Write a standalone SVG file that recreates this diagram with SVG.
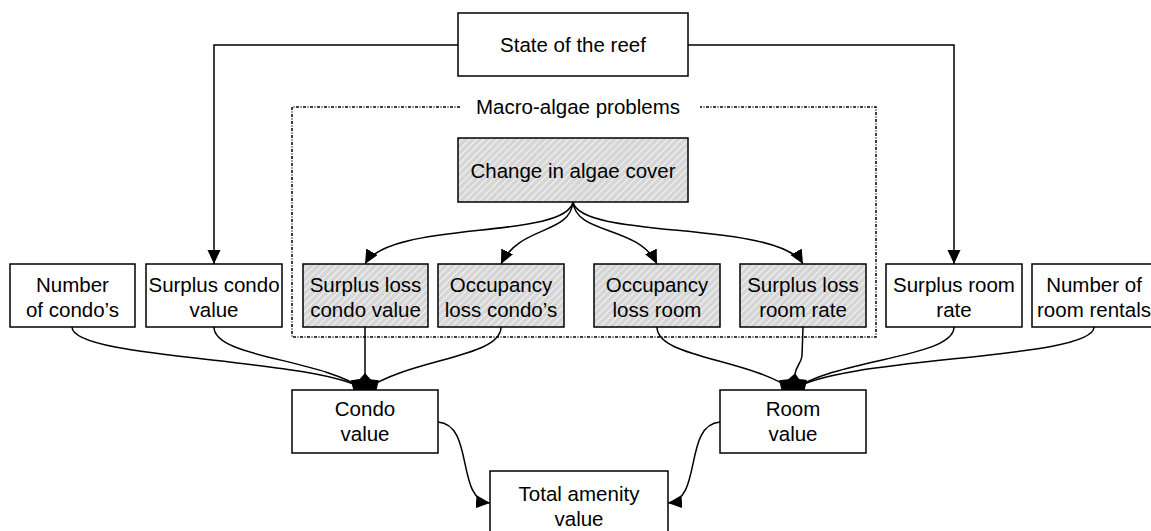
<svg xmlns="http://www.w3.org/2000/svg" width="1151" height="531" viewBox="0 0 1151 531">
<defs>
<pattern id="hatch" width="5" height="5" patternUnits="userSpaceOnUse" patternTransform="rotate(45)">
<rect width="5" height="5" fill="#d6d6d6"/>
<line x1="0" y1="0" x2="0" y2="5" stroke="#f4f4f4" stroke-width="2"/>
</pattern>
<marker id="arrow" markerUnits="userSpaceOnUse" markerWidth="16" markerHeight="14" refX="14" refY="6.5" orient="auto">
<path d="M0,0 L14,6.5 L0,13 z" fill="#000"/>
</marker>
<marker id="diamond" markerUnits="userSpaceOnUse" markerWidth="20" markerHeight="16" refX="17" refY="7.5" orient="auto">
<path d="M0,7.5 L8.5,0 L17,7.5 L8.5,15 z" fill="#000"/>
</marker>
</defs>
<style>
.box{fill:#fff;stroke:#000;stroke-width:1.5}
.hbox{fill:url(#hatch);stroke:#000;stroke-width:1.5}
text{font-family:"Liberation Sans",Arial,sans-serif;font-size:20.5px;fill:#000;text-anchor:middle}
.conn{fill:none;stroke:#000;stroke-width:1.5}
.arr{marker-end:url(#arrow)}
.dia{marker-end:url(#diamond)}
.group{fill:none;stroke:#000;stroke-width:1.5;stroke-dasharray:3 1.5 1 1.5}
</style>
<rect width="1151" height="531" fill="#fff"/>

<g id="macro-algae-group">
<path class="group" d="M460,107 L292,107 L292,337 L876,337 L876,107 L700,107"/>
<text x="578" y="114">Macro-algae problems</text>
</g>

<g id="connectors">
<path class="conn arr" d="M458,45 L214,45 L214,264"/>
<path class="conn arr" d="M688,45 L954,45 L954,264"/>
<path class="conn arr" d="M573,202 C565,240 390,220 365,264"/>
<path class="conn arr" d="M573,202 C570,235 520,225 501,264"/>
<path class="conn arr" d="M573,202 C576,235 638,225 657,264"/>
<path class="conn arr" d="M573,202 C581,240 778,220 803,264"/>
<path class="conn dia" d="M72,327 C72,360 320,358 365,390"/>
<path class="conn dia" d="M214,327 C214,358 320,358 365,390"/>
<path class="conn dia" d="M365,327 L365,390"/>
<path class="conn dia" d="M501,327 C501,358 410,358 365,390"/>
<path class="conn dia" d="M657,327 C657,358 748,358 793,390"/>
<path class="conn dia" d="M803,327 L802,356 C801,364 796,366 795,374 L793,390"/>
<path class="conn dia" d="M954,327 C954,358 838,358 793,390"/>
<path class="conn dia" d="M1094,327 C1094,360 838,356 793,390"/>
<path class="conn arr" d="M438,422 C475,425 455,500 490,503"/>
<path class="conn arr" d="M720,422 C683,425 703,500 668,503"/>
</g>

<g id="state-of-the-reef">
<rect class="box" x="458" y="13" width="230" height="63"/>
<text x="573" y="52">State of the reef</text>
</g>

<g id="change-in-algae-cover">
<rect class="hbox" x="458" y="138" width="230" height="64"/>
<text x="573" y="178">Change in algae cover</text>
</g>

<g id="number-of-condos">
<rect class="box" x="10" y="264" width="125" height="63"/>
<text x="72.5" y="292">Number</text>
<text x="72.5" y="317">of condo’s</text>
</g>

<g id="surplus-condo-value">
<rect class="box" x="146" y="264" width="136" height="63"/>
<text x="214" y="292">Surplus condo</text>
<text x="214" y="317">value</text>
</g>

<g id="surplus-loss-condo-value">
<rect class="hbox" x="303" y="264" width="125" height="63"/>
<text x="365.5" y="292">Surplus loss</text>
<text x="365.5" y="317">condo value</text>
</g>

<g id="occupancy-loss-condos">
<rect class="hbox" x="438" y="264" width="126" height="63"/>
<text x="501" y="292">Occupancy</text>
<text x="501" y="317">loss condo’s</text>
</g>

<g id="occupancy-loss-room">
<rect class="hbox" x="594" y="264" width="126" height="63"/>
<text x="657" y="292">Occupancy</text>
<text x="657" y="317">loss room</text>
</g>

<g id="surplus-loss-room-rate">
<rect class="hbox" x="740" y="264" width="126" height="63"/>
<text x="803" y="292">Surplus loss</text>
<text x="803" y="317">room rate</text>
</g>

<g id="surplus-room-rate">
<rect class="box" x="886" y="264" width="136" height="63"/>
<text x="954" y="292">Surplus room</text>
<text x="954" y="317">rate</text>
</g>

<g id="number-of-room-rentals">
<rect class="box" x="1032" y="264" width="130" height="63"/>
<text x="1094" y="292">Number of</text>
<text x="1094" y="317">room rentals</text>
</g>

<g id="condo-value">
<rect class="box" x="292" y="390" width="146" height="63"/>
<text x="365" y="416">Condo</text>
<text x="365" y="441">value</text>
</g>

<g id="room-value">
<rect class="box" x="720" y="390" width="146" height="63"/>
<text x="793" y="416">Room</text>
<text x="793" y="441">value</text>
</g>

<g id="total-amenity-value">
<rect class="box" x="490" y="471" width="178" height="63"/>
<text x="579" y="501">Total amenity</text>
<text x="579" y="526">value</text>
</g>
</svg>
